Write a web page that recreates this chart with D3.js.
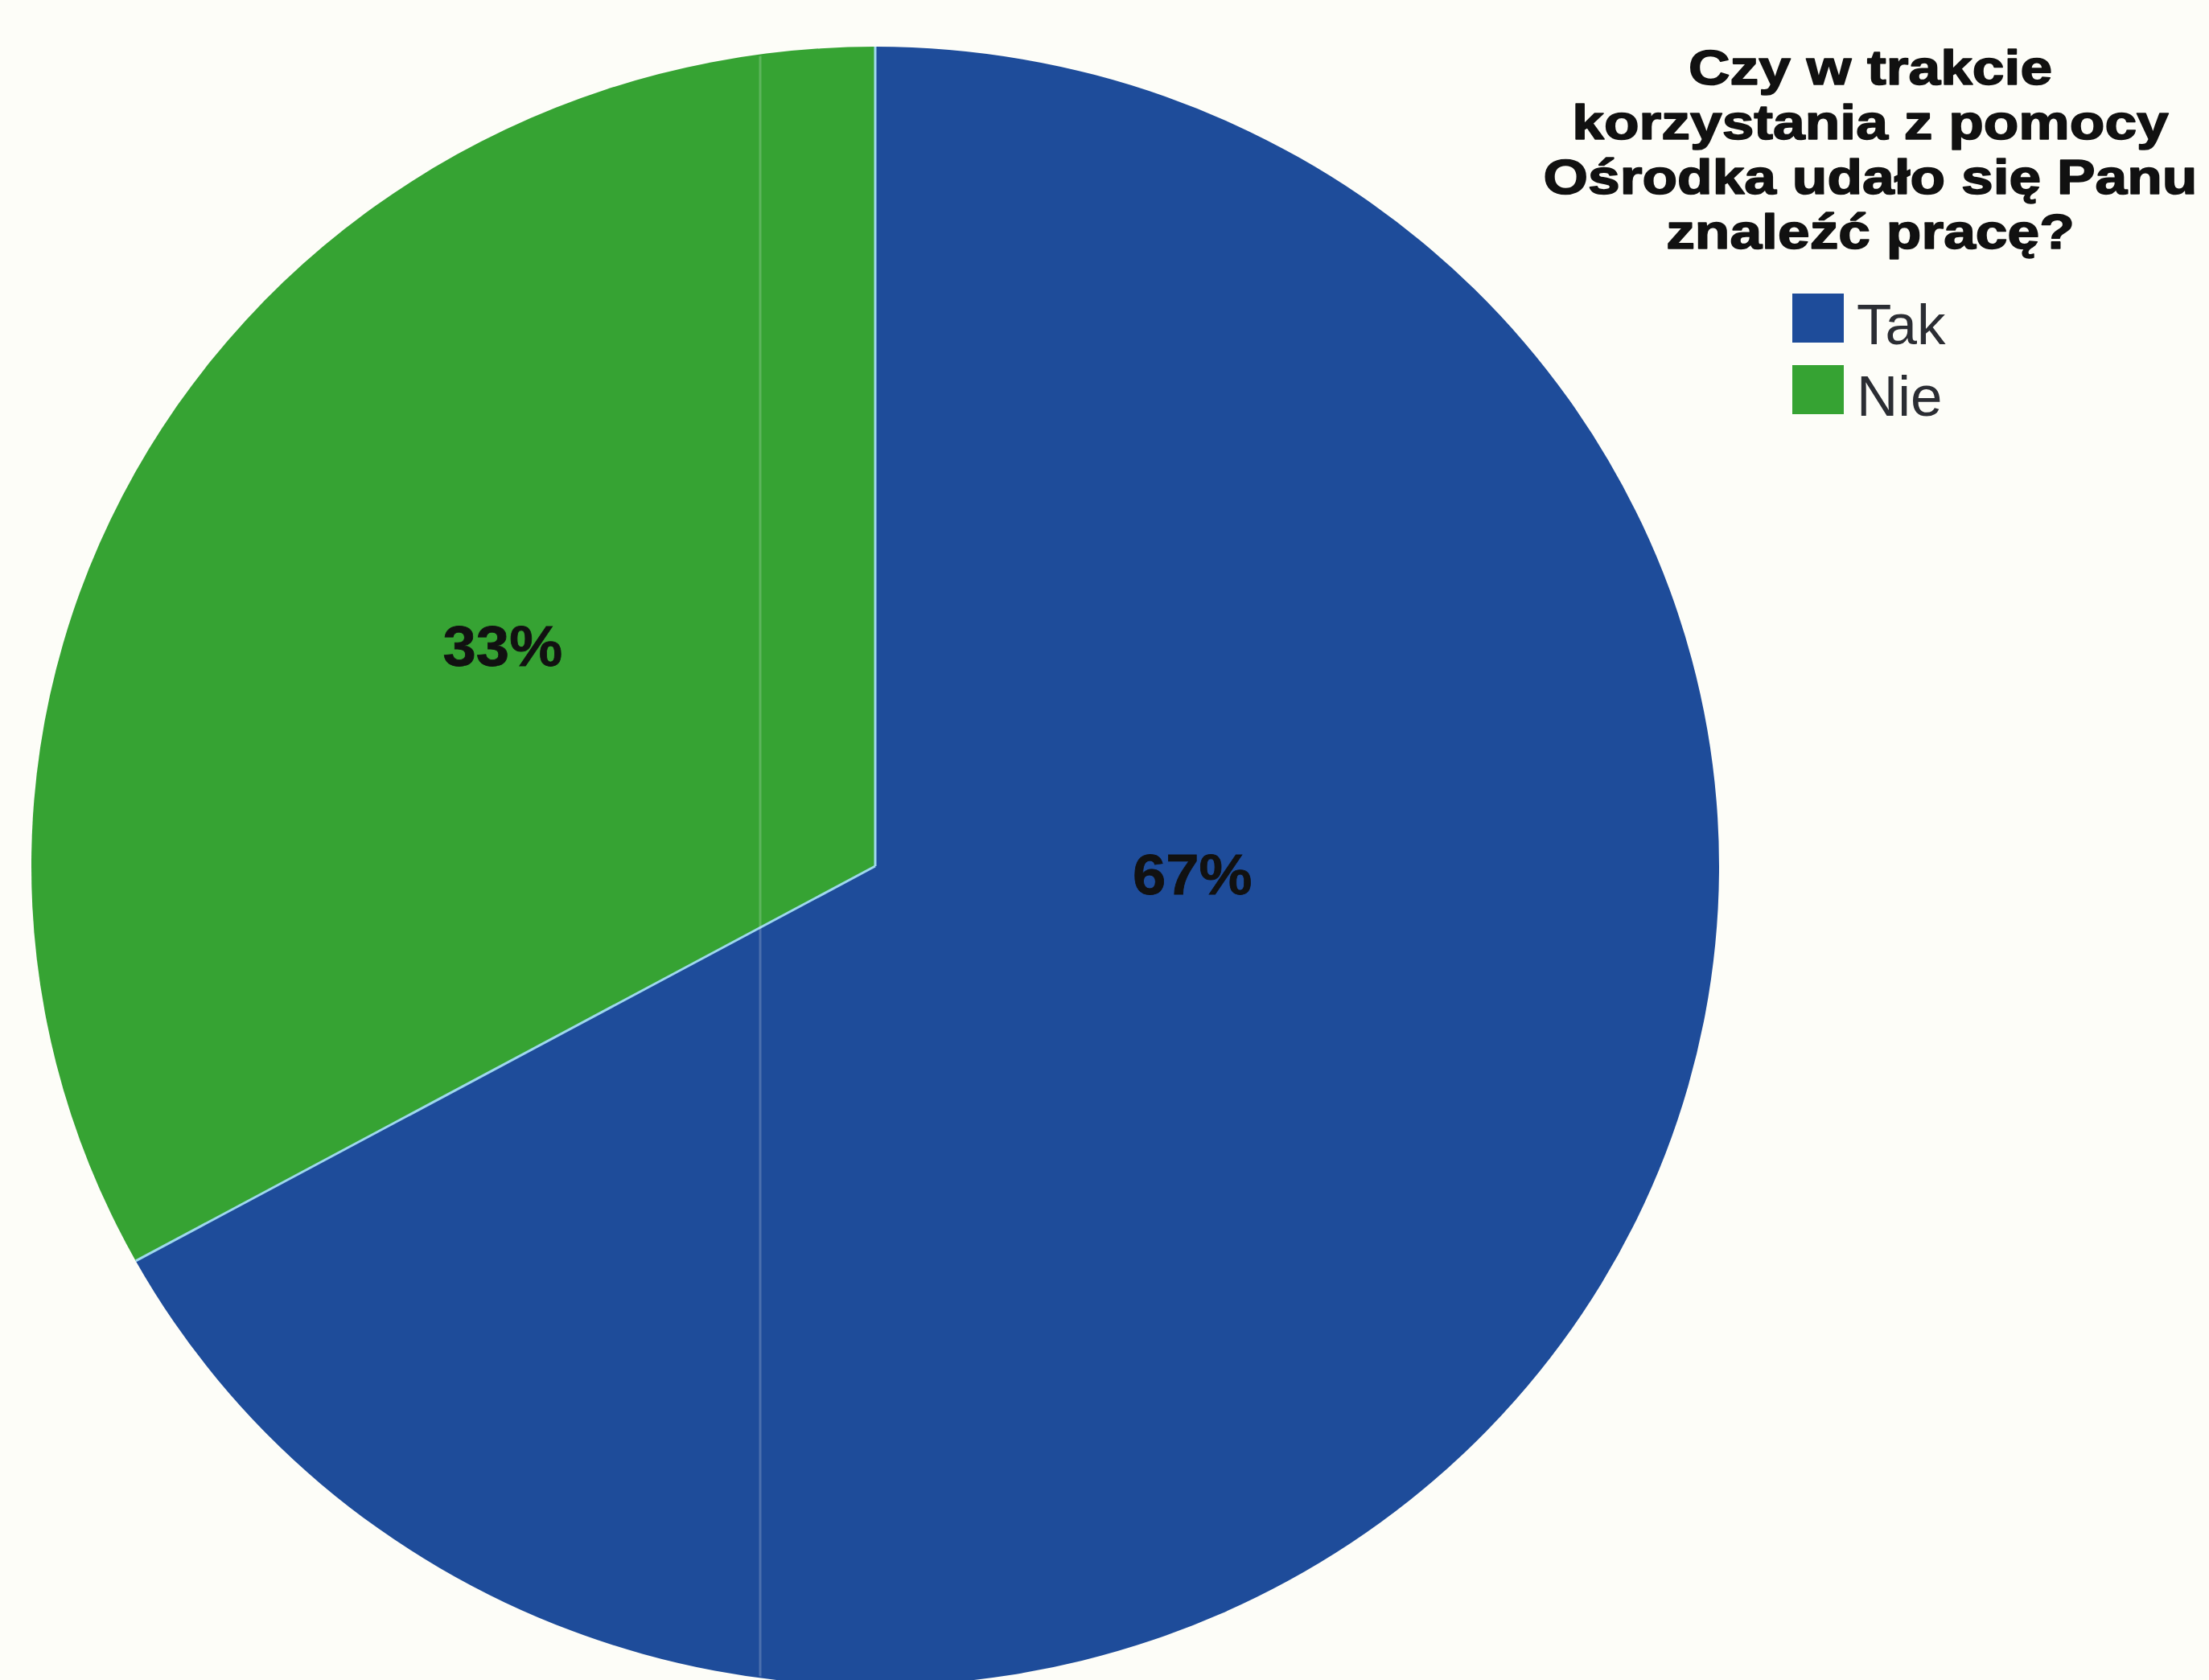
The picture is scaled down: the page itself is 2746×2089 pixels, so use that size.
<!DOCTYPE html>
<html lang="pl">
<head>
<meta charset="utf-8">
<script src="https://cdn.jsdelivr.net/npm/d3@7"></script>
<style>
  html, body { margin: 0; padding: 0; background: #fdfdf8; }
  svg { display: block; }
</style>
</head>
<body>
<script>
// Survey answers and their shares (percent)
const categories = ["Tak", "Nie"];
const values = [67, 33];
const valueLabels = ["67%", "33%"];
const colors = ["#1e4c9a", "#36a333"];
const titleLines = [
  "Czy w trakcie",
  "korzystania z pomocy",
  "Ośrodka udało się Panu",
  "znaleźć pracę?"
];

const W = 2746, H = 2089;
const cx = 1088, cy = 1077;
const rx = 1049, ry = 1019;

const svg = d3.select("body").append("svg")
  .attr("width", W).attr("height", H);

svg.append("rect").attr("width", W).attr("height", H).attr("fill", "#fdfdf8");

const data = categories.map((c, i) => ({ name: c, value: values[i], label: valueLabels[i], color: colors[i] }));

const pie = d3.pie().sort(null).value(d => d.value).startAngle(0).endAngle(2 * Math.PI);
const arcs = pie(data);
const arc = d3.arc().innerRadius(0).outerRadius(rx);

// Pie, slightly squashed vertically
const g = svg.append("g").attr("transform", `translate(${cx},${cy}) scale(1,${ry / rx})`);

g.selectAll("path.slice").data(arcs).enter().append("path")
  .attr("class", "slice")
  .attr("d", arc)
  .attr("fill", d => d.data.color);

// light separators along the slice boundaries
g.selectAll("line.sep").data(arcs).enter().append("line")
  .attr("class", "sep")
  .attr("x1", 0).attr("y1", 0)
  .attr("x2", d => Math.sin(d.startAngle) * rx)
  .attr("y2", d => -Math.cos(d.startAngle) * rx)
  .attr("stroke", "#9fd8ef")
  .attr("stroke-width", 3)
  .attr("vector-effect", "non-scaling-stroke");

// faint vertical streak running through the disc
const clip = svg.append("clipPath").attr("id", "disc");
clip.append("ellipse").attr("cx", cx).attr("cy", cy).attr("rx", rx - 2).attr("ry", ry - 2);
svg.append("line")
  .attr("x1", 945).attr("x2", 945).attr("y1", 0).attr("y2", H)
  .attr("stroke", "#ffffff").attr("stroke-opacity", 0.2).attr("stroke-width", 3)
  .attr("clip-path", "url(#disc)");

// Percentage labels: direction (degrees clockwise from top) and relative radius
const labelPlacement = { "Tak": { angle: 91.5, r: 0.376 }, "Nie": { angle: 301.35, r: 0.517 } };
svg.selectAll("text.val").data(arcs).enter().append("text")
  .attr("class", "val")
  .attr("transform", d => {
    const p = labelPlacement[d.data.name];
    const a = p.angle * Math.PI / 180;
    const x = cx + Math.sin(a) * rx * p.r;
    const y = cy - Math.cos(a) * ry * p.r;
    return `translate(${x},${y}) scale(1.06,1)`;
  })
  .attr("text-anchor", "middle")
  .attr("dy", "0.36em")
  .attr("font-family", "'Liberation Sans', Arial, sans-serif")
  .attr("font-weight", "bold")
  .attr("font-size", 70)
  .attr("fill", "#111")
  .attr("stroke", "#111")
  .attr("stroke-width", 0.8)
  .text(d => d.data.label);

// Title
const titleX = 2325;
const titleG = svg.append("g");
titleG.selectAll("text").data(titleLines).enter().append("text")
  .attr("transform", (d, i) => `translate(${titleX},${105 + i * 68}) scale(1.17,1)`)
  .attr("text-anchor", "middle")
  .attr("font-family", "'Liberation Sans', Arial, sans-serif")
  .attr("font-weight", "bold")
  .attr("font-size", 61)
  .attr("fill", "#111")
  .attr("stroke", "#111")
  .attr("stroke-width", 1.6)
  .attr("stroke-linejoin", "round")
  .text(d => d);

// Legend
const legend = svg.append("g").attr("transform", "translate(2228,365)");
const item = legend.selectAll("g").data(data).enter().append("g")
  .attr("transform", (d, i) => `translate(0,${i * 89})`);
item.append("rect")
  .attr("width", 64).attr("height", 61)
  .attr("fill", d => d.color);
item.append("text")
  .attr("x", 80).attr("y", 63)
  .attr("font-family", "'Liberation Sans', Arial, sans-serif")
  .attr("font-size", 71)
  .attr("fill", "#2b2d33")
  .text(d => d.name);
</script>
</body>
</html>
